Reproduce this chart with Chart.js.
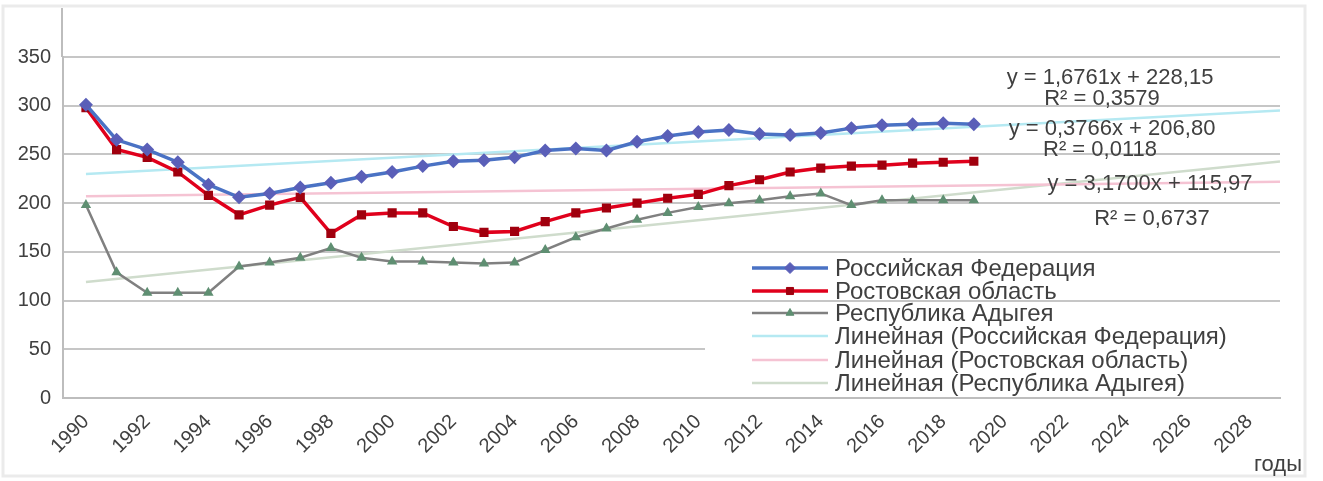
<!DOCTYPE html>
<html>
<head>
<meta charset="utf-8">
<script src="https://cdn.jsdelivr.net/npm/chart.js@4.4.1/dist/chart.umd.min.js"></script>
<style>
  html, body { margin: 0; padding: 0; background: #ffffff; }
  #wrap { width: 1323px; height: 481px; }
</style>
</head>
<body>
<div id="wrap"><canvas id="chart" width="1323" height="481"></canvas></div>
<script>
// Years of observation
const years = [1990, 1991, 1992, 1993, 1994, 1995, 1996, 1997, 1998, 1999,
               2000, 2001, 2002, 2003, 2004, 2005, 2006, 2007, 2008, 2009,
               2010, 2011, 2012, 2013, 2014, 2015, 2016, 2017, 2018, 2019];

// Series values
const russia = [301, 265, 255, 242, 219, 206, 210, 216, 221, 227,
                232, 238, 243, 244, 247, 254, 256, 254, 263, 269,
                273, 275, 271, 270, 272, 277, 280, 281, 282, 281];
const rostov = [298, 255, 247, 232, 208, 188, 198, 206, 169, 188,
                190, 190, 176, 170, 171, 181, 190, 195, 200, 205,
                209, 218, 224, 232, 236, 238, 239, 241, 242, 243];
const adygea = [198, 129, 108, 108, 108, 135, 139, 144, 154, 144,
                140, 140, 139, 138, 139, 152, 165, 174, 183, 190,
                196, 200, 203, 207, 210, 198, 203, 203, 203, 203];

// Axis tick labels
const tickYears = [1990, 1992, 1994, 1996, 1998, 2000, 2002, 2004, 2006, 2008,
                   2010, 2012, 2014, 2016, 2018, 2020, 2022, 2024, 2026, 2028];
const yTicks = [0, 50, 100, 150, 200, 250, 300, 350];
const forecastEnd = 2029;

const seriesNames = ['Российская Федерация', 'Ростовская область', 'Республика Адыгея'];
const trendNames = seriesNames.map(n => 'Линейная (' + n + ')');
const xAxisTitle = 'годы';

// Least-squares line over x = 1..n (as a spreadsheet trendline does)
function linearFit(values) {
  const n = values.length;
  let sx = 0, sy = 0, sxx = 0, sxy = 0;
  values.forEach((v, i) => { const x = i + 1; sx += x; sy += v; sxx += x * x; sxy += x * v; });
  const b = (n * sxy - sx * sy) / (n * sxx - sx * sx);
  const a = (sy - b * sx) / n;
  const mean = sy / n;
  let ssTot = 0, ssRes = 0;
  values.forEach((v, i) => { const f = a + b * (i + 1); ssRes += (v - f) ** 2; ssTot += (v - mean) ** 2; });
  return { a, b, r2: 1 - ssRes / ssTot };
}

const fmt = (v) => Math.abs(v).toFixed(4).replace('.', ',');
const eqText = (f) => 'y = ' + (f.b < 0 ? '-' : '') + fmt(f.b) + 'x ' + (f.a < 0 ? '- ' : '+ ') + Math.abs(f.a).toFixed(2).replace('.', ',');
const r2Text = (f) => 'R² = ' + fmt(f.r2);

const values = [russia, rostov, adygea];
const fits = values.map(linearFit);

const lineColors = ['#4a72c4', '#e0001c', '#808080'];
const pointColors = ['#5a5fb8', '#a0000e', '#5f8f72'];
const pointStyles = ['rectRot', 'rect', 'triangle'];
const pointRadii = [4.5, 4, 3.5];
const lineWidths = [3.5, 3.5, 2.5];
const trendColors = ['#b5e9f2', '#f5c3d3', '#cfdccc'];

const toPoints = (arr) => arr.map((v, i) => ({ x: years[i], y: v }));

const datasets = values.map((arr, k) => ({
  label: seriesNames[k],
  data: toPoints(arr),
  borderColor: lineColors[k],
  backgroundColor: pointColors[k],
  pointBackgroundColor: pointColors[k],
  pointBorderColor: pointColors[k],
  pointStyle: pointStyles[k],
  pointRadius: pointRadii[k],
  borderWidth: lineWidths[k],
  tension: 0,
  fill: false
}));

fits.forEach((f, k) => {
  const first = years[0];
  datasets.push({
    label: trendNames[k],
    data: [first, forecastEnd].map(yr => ({ x: yr, y: f.a + f.b * (yr - first + 1) })),
    borderColor: trendColors[k],
    borderWidth: 2.5,
    pointRadius: 0,
    fill: false
  });
});

const textColor = '#404040';
const fontFamily = '"Liberation Sans", Arial, sans-serif';

// Frame, legend, trendline equations and axis caption
const overlay = {
  id: 'overlay',
  beforeDraw(chart) {
    const ctx = chart.ctx;
    ctx.save();
    ctx.strokeStyle = '#ebebeb';
    ctx.lineWidth = 3;
    ctx.strokeRect(3, 6, 1302, 470);
    ctx.restore();
  },
  afterDraw(chart) {
    const ctx = chart.ctx;
    const area = chart.chartArea;
    ctx.save();
    // value axis line continues up to the frame
    ctx.strokeStyle = '#bdbdbd';
    ctx.lineWidth = 2;
    ctx.beginPath();
    ctx.moveTo(area.left - 1, 8);
    ctx.lineTo(area.left - 1, area.top);
    ctx.stroke();

    // legend panel behind the trendline entries
    ctx.fillStyle = '#ffffff';
    ctx.fillRect(705, 323, 580, 73);

    const rowY = [268, 291, 313, 336, 360, 383];
    ctx.font = '24px ' + fontFamily;
    ctx.textBaseline = 'middle';
    ctx.textAlign = 'left';
    for (let k = 0; k < 6; k++) {
      const ds = chart.data.datasets[k];
      const y = rowY[k];
      ctx.strokeStyle = ds.borderColor;
      ctx.lineWidth = ds.borderWidth;
      ctx.beginPath();
      ctx.moveTo(752, y);
      ctx.lineTo(828, y);
      ctx.stroke();
      if (ds.pointRadius > 0) {
        ctx.fillStyle = ds.pointBackgroundColor;
        ctx.strokeStyle = ds.pointBorderColor;
        ctx.lineWidth = 1;
        Chart.helpers.drawPoint(ctx, { pointStyle: ds.pointStyle, radius: ds.pointRadius + 1, borderWidth: 1, rotation: 0 }, 790, y);
      }
      ctx.fillStyle = textColor;
      ctx.fillText(ds.label, 835, y + 1);
    }

    // trendline equations
    ctx.font = '22px ' + fontFamily;
    ctx.textAlign = 'center';
    ctx.fillStyle = textColor;
    const eqY = [[78, 99], [129, 150], [184, 219]];
    const eqX = [[1110, 1102], [1112, 1100], [1150, 1152]];
    fits.forEach((f, k) => {
      ctx.fillText(eqText(f), eqX[k][0], eqY[k][0]);
      ctx.fillText(r2Text(f), eqX[k][1], eqY[k][1]);
    });

    // x axis caption
    ctx.font = '22px ' + fontFamily;
    ctx.textAlign = 'center';
    ctx.fillText(xAxisTitle, 1278, 465);
    ctx.restore();
  }
};

new Chart(document.getElementById('chart'), {
  type: 'line',
  data: { datasets },
  plugins: [overlay],
  options: {
    responsive: false,
    animation: false,
    devicePixelRatio: 1,
    layout: { padding: { left: 0, top: 57, right: 43, bottom: 0 } },
    plugins: { legend: { display: false }, tooltip: { enabled: false } },
    scales: {
      x: {
        type: 'linear',
        min: 1989.25,
        max: forecastEnd,
        afterBuildTicks: (s) => { s.ticks = tickYears.map(v => ({ value: v })); },
        afterFit: (s) => { s.height = 83; },
        grid: { display: false },
        border: { display: true, color: '#bdbdbd', width: 2 },
        ticks: {
          autoSkip: false,
          minRotation: 45,
          maxRotation: 45,
          padding: 4,
          color: textColor,
          font: { family: fontFamily, size: 20 },
          callback: (v) => String(v)
        }
      },
      y: {
        min: 0,
        max: 350,
        afterBuildTicks: (s) => { s.ticks = yTicks.map(v => ({ value: v })); },
        afterFit: (s) => { s.width = 63; },
        grid: { color: '#c6c6c6', lineWidth: 2, drawTicks: false },
        border: { display: true, color: '#bdbdbd', width: 2 },
        ticks: {
          padding: 12,
          color: textColor,
          font: { family: fontFamily, size: 20 },
          callback: (v) => String(v)
        }
      }
    }
  }
});
</script>
</body>
</html>
